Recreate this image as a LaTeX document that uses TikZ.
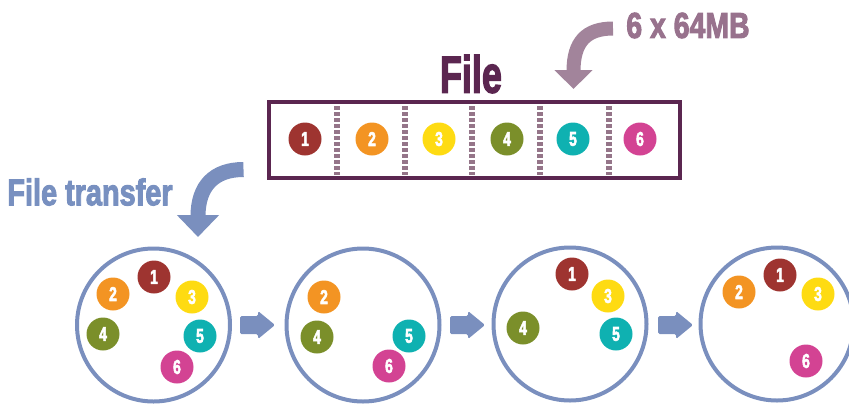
\documentclass[tikz,border=0pt]{standalone}
\usepackage{fontspec}
\usepackage{graphicx}
\usetikzlibrary{arrows.meta}
\newfontfamily\imp[BoldFeatures={FakeBold=3}]{Liberation Sans}
\definecolor{cone}{HTML}{9E3430}
\definecolor{ctwo}{HTML}{F39423}
\definecolor{cthree}{HTML}{FEDB12}
\definecolor{cfour}{HTML}{7B8F2A}
\definecolor{cfive}{HTML}{0FB1B1}
\definecolor{csix}{HTML}{D34393}
\definecolor{filec}{HTML}{5B2650}
\definecolor{mauve}{HTML}{A2849B}
\definecolor{mauvetxt}{HTML}{98728D}
\definecolor{divc}{HTML}{957589}
\definecolor{bluec}{HTML}{7A8FBE}
\definecolor{bluetxt}{HTML}{7890C0}
\tikzset{
  chunk/.style={circle, fill=#1, minimum size=33pt, inner sep=0pt, text=white,
    font=\imp\bfseries\fontsize{20}{20}\selectfont},
  disk/.style={circle, draw=bluec, line width=4pt, minimum size=153pt, inner sep=0pt},
  blockarrow/.style={fill=bluec, rounded corners=1.5pt},
  divider/.style={divc, line width=6pt, dash pattern=on 3.5pt off 2.5pt},
  bigarrow/.style={line width=#1, line cap=butt},
}
\newcommand{\cd}[1]{\scalebox{0.7}[1]{#1}}
\newcommand{\blockarr}[1]{\fill[blockarrow] (#1) ++(-17.5,-9) -- ++(18,0) -- ++(0,-5) -- ++(17,14) -- ++(-17,14) -- ++(0,-5) -- ++(-18,0) -- cycle;}
\begin{document}
\begin{tikzpicture}[x=1pt,y=-1pt]
\useasboundingbox (0,0) rectangle (849,405);
% file box
\node[draw=filec, line width=4.5pt, minimum width=411pt, minimum height=76pt, inner sep=0pt] (file) at (474.5,140) {};
\foreach \x in {337,405,472,540,609}
  \draw[divider] (\x,106) -- (\x,175);
\node[chunk=cone]   (f1) at (305,139) {\cd{1}};
\node[chunk=ctwo]   (f2) at (372,139) {\cd{2}};
\node[chunk=cthree] (f3) at (439,139) {\cd{3}};
\node[chunk=cfour]  (f4) at (507,139) {\cd{4}};
\node[chunk=cfive]  (f5) at (573,139) {\cd{5}};
\node[chunk=csix]   (f6) at (640,139) {\cd{6}};
% labels
\node[text=filec, font=\imp\bfseries\fontsize{52}{52}\selectfont, inner sep=0pt] (filelbl) at (471,74) {\scalebox{0.69}[1]{File}};
\node[text=mauvetxt, font=\imp\bfseries\fontsize{36}{36}\selectfont, inner sep=0pt] (sizelbl) at (688,25.5) {\scalebox{0.79}[1]{6 x 64MB}};
\node[text=bluetxt, font=\imp\bfseries\fontsize{37}{37}\selectfont, inner sep=0pt] (xferlbl) at (90,192) {\scalebox{0.78}[1]{File transfer}};
% curved arrows
\coordinate (ms) at (613,28.5);
\coordinate (me) at (573.5,89);
\draw[mauve, bigarrow=14pt, -{Triangle[width=37pt,length=19pt]}] (ms) .. controls (586,28.5) and (573.5,42) .. (me);
\coordinate (bs) at (243.5,169.5);
\coordinate (be) at (198,237);
\draw[bluec, bigarrow=15pt, -{Triangle[width=41pt,length=22pt]}] (bs) .. controls (214,169.5) and (198,186) .. (be);
% disks
\node[disk] (A) at (153.5,325) {};
\node[disk] (B) at (363,325) {};
\node[disk] (C) at (570,324) {};
\node[disk] (D) at (777,324) {};
\coordinate (ab) at (257.5,325);
\coordinate (bc) at (467.5,325);
\coordinate (cd) at (675.5,325);
\blockarr{ab}
\blockarr{bc}
\blockarr{cd}
% disk A
\node[chunk=cone]   (a1) at (154,277) {\cd{1}};
\node[chunk=ctwo]   (a2) at (113,294) {\cd{2}};
\node[chunk=cthree] (a3) at (192,297) {\cd{3}};
\node[chunk=cfour]  (a4) at (103,334) {\cd{4}};
\node[chunk=cfive]  (a5) at (200,336) {\cd{5}};
\node[chunk=csix]   (a6) at (177,367) {\cd{6}};
% disk B
\node[chunk=ctwo]   (b2) at (324,297) {\cd{2}};
\node[chunk=cfour]  (b4) at (317,337) {\cd{4}};
\node[chunk=cfive]  (b5) at (409,336) {\cd{5}};
\node[chunk=csix]   (b6) at (389,366) {\cd{6}};
% disk C
\node[chunk=cone]   (c1) at (572,274) {\cd{1}};
\node[chunk=cthree] (c3) at (608,296) {\cd{3}};
\node[chunk=cfour]  (c4) at (523,328) {\cd{4}};
\node[chunk=cfive]  (c5) at (616,334) {\cd{5}};
% disk D
\node[chunk=ctwo]   (d2) at (739,292) {\cd{2}};
\node[chunk=cone]   (d1) at (780,275) {\cd{1}};
\node[chunk=cthree] (d3) at (818,294) {\cd{3}};
\node[chunk=csix]   (d6) at (806,361) {\cd{6}};
\end{tikzpicture}
\end{document}
